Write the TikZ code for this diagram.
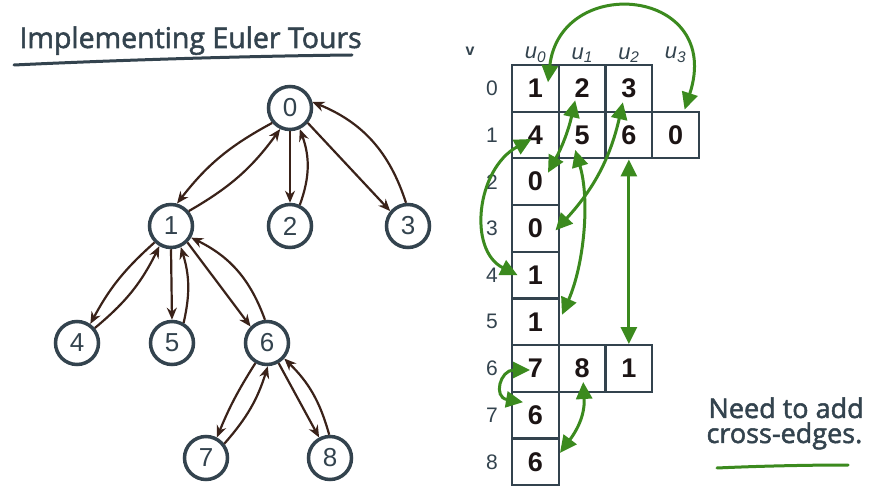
\documentclass[tikz,border=0pt]{standalone}
\usepackage{fontspec}
\setmainfont{Liberation Sans}
\newfontfamily\handfont{Open Sans}[FakeBold=1.8]
\usepackage{tikz}
\usetikzlibrary{arrows.meta, calc}
\usepackage{xcolor}

\definecolor{slate}{HTML}{33434E}
\definecolor{treebrown}{HTML}{3A2219}
\definecolor{crossgreen}{HTML}{3B8A1E}
\definecolor{cellink}{HTML}{1C1414}

\tikzset{
  vertex/.style={circle, draw=slate, line width=3.5pt, minimum size=43pt, inner sep=0pt,
    text=slate, font=\fontsize{26}{26}\selectfont},
  tour/.style={-{Stealth[length=12pt, width=10pt]}, line width=2.2pt, draw=treebrown},
  cell/.style={draw=slate, line width=2.2pt, minimum size=46.7pt, inner sep=0pt,
    text=cellink, font=\fontsize{27}{27}\selectfont\bfseries},
  rowlab/.style={text=slate, font=\fontsize{21}{21}\selectfont},
  collab/.style={text=slate, font=\fontsize{22}{22}\selectfont\itshape},
  crossedge/.style={{Triangle[length=17pt, width=16pt]}-{Triangle[length=17pt, width=16pt]},
    line width=3pt, draw=crossgreen},
  hand/.style={text=slate, font=\handfont\fontsize{27}{27}\selectfont}
}

\begin{document}
\begin{tikzpicture}[x=1pt, y=1pt]
  \path[use as bounding box, fill=white] (0,0) rectangle (876,493);

  % Title
  \node[hand, anchor=base west, font=\handfont\fontsize{28.5}{28.5}\selectfont] (title) at (16,445) {Implementing Euler Tours};
  \draw[slate, line width=3pt, line cap=round] (14,428) .. controls (120,433) and (250,437) .. (352,438);

  % Tree
  \node[vertex] (n0) at (290,385) {0};
  \node[vertex] (n1) at (171,267) {1};
  \node[vertex] (n2) at (290,267) {2};
  \node[vertex] (n3) at (408,267) {3};
  \node[vertex] (n4) at (77,150) {4};
  \node[vertex] (n5) at (172,150) {5};
  \node[vertex] (n6) at (267,150) {6};
  \node[vertex] (n7) at (206,35) {7};
  \node[vertex] (n8) at (330,35) {8};

  % Tour edges, down and back up
  \draw[tour] (n0.220) to[bend right=12] (n1.75);
  \draw[tour] (n1.40) to[bend right=12] (n0.245);
  \draw[tour] (n0.south) -- (n2.north);
  \draw[tour] (n2.65) to[bend right=20] (n0.-65);
  \draw[tour] (n0.-40) -- (n3.140);
  \draw[tour] (n3.95) to[bend right=25] (n0.15);
  \draw[tour] (n1.225) to[bend right=10] (n4.55);
  \draw[tour] (n4.40) to[bend right=12] (n1.240);
  \draw[tour] (n1.south) -- (n5.north);
  \draw[tour] (n5.60) to[bend right=15] (n1.-65);
  \draw[tour] (n1.-45) -- (n6.135);
  \draw[tour] (n6.95) to[bend right=22] (n1.-30);
  \draw[tour] (n6.240) to[bend right=5] (n7.62);
  \draw[tour] (n7.38) to[bend right=12] (n6.-88);
  \draw[tour] (n6.-60) -- (n8.118);
  \draw[tour] (n8.92) to[bend right=15] (n6.-42);

  % Adjacency table
  \node[text=slate, font=\fontsize{16}{16}\selectfont\bfseries] (v) at (470,442) {v};
  \foreach \c in {0,...,3}
    \node[collab] (u\c) at ({535.5+46.7*\c}, 438) {u\textsubscript{\c}};
  \foreach \r in {0,...,8}
    \node[rowlab] (r\r) at (492, {404.7-46.7*\r}) {\r};

  \foreach \v [count=\c from 0] in {1,2,3}
    \node[cell] (c0\c) at ({535.5+46.7*\c}, 404.7) {\v};
  \foreach \v [count=\c from 0] in {4,5,6,0}
    \node[cell] (c1\c) at ({535.5+46.7*\c}, 358) {\v};
  \node[cell] (c20) at (535.5,311.3) {0};
  \node[cell] (c30) at (535.5,264.6) {0};
  \node[cell] (c40) at (535.5,217.9) {1};
  \node[cell] (c50) at (535.5,171.2) {1};
  \foreach \v [count=\c from 0] in {7,8,1}
    \node[cell] (c6\c) at ({535.5+46.7*\c}, 124.5) {\v};
  \node[cell] (c70) at (535.5,77.8) {6};
  \node[cell] (c80) at (535.5,31.1) {6};

  % Cross-edges
  \draw[crossedge] ($(c00.center)+(12.5,6)$) .. controls +(12,110) and +(40,122) .. ($(c13.north)+(9,1)$);
  \draw[crossedge] ($(c20.center)+(12.5,9)$) to[bend right=8] ($(c01.center)+(-7,-12)$);
  \draw[crossedge] ($(c02.center)+(-6,-14)$) to[bend left=15] ($(c30.center)+(20,-2)$);
  \draw[crossedge] ($(c10.center)+(-4,-4)$) .. controls +(-55,-30) and +(-50,25) .. ($(c40.center)+(-18,0)$);
  \draw[crossedge] ($(c11.center)+(-7,-15)$) .. controls +(15,-50) and +(22,50) .. ($(c50.center)+(26.5,7)$);
  \draw[crossedge] (c12.south) -- (c62.north);
  \draw[crossedge] ($(c60.center)+(-5.5,-1.5)$) .. controls +(-30,0) and +(-30,5) .. ($(c70.center)+(-12.5,13)$);
  \draw[crossedge] ($(c61.center)+(1,-13.5)$) .. controls +(2,-35) and +(15,20) .. ($(c80.center)+(24.5,9)$);

  % Note
  \node[hand, anchor=base west] (need) at (705,75) {Need to add};
  \node[hand, anchor=base west] (crossnote) at (703,50) {cross-edges.};
  \draw[crossgreen, line width=3pt, line cap=round] (717,25) .. controls (760,27) and (810,28) .. (848,28);
\end{tikzpicture}
\end{document}
